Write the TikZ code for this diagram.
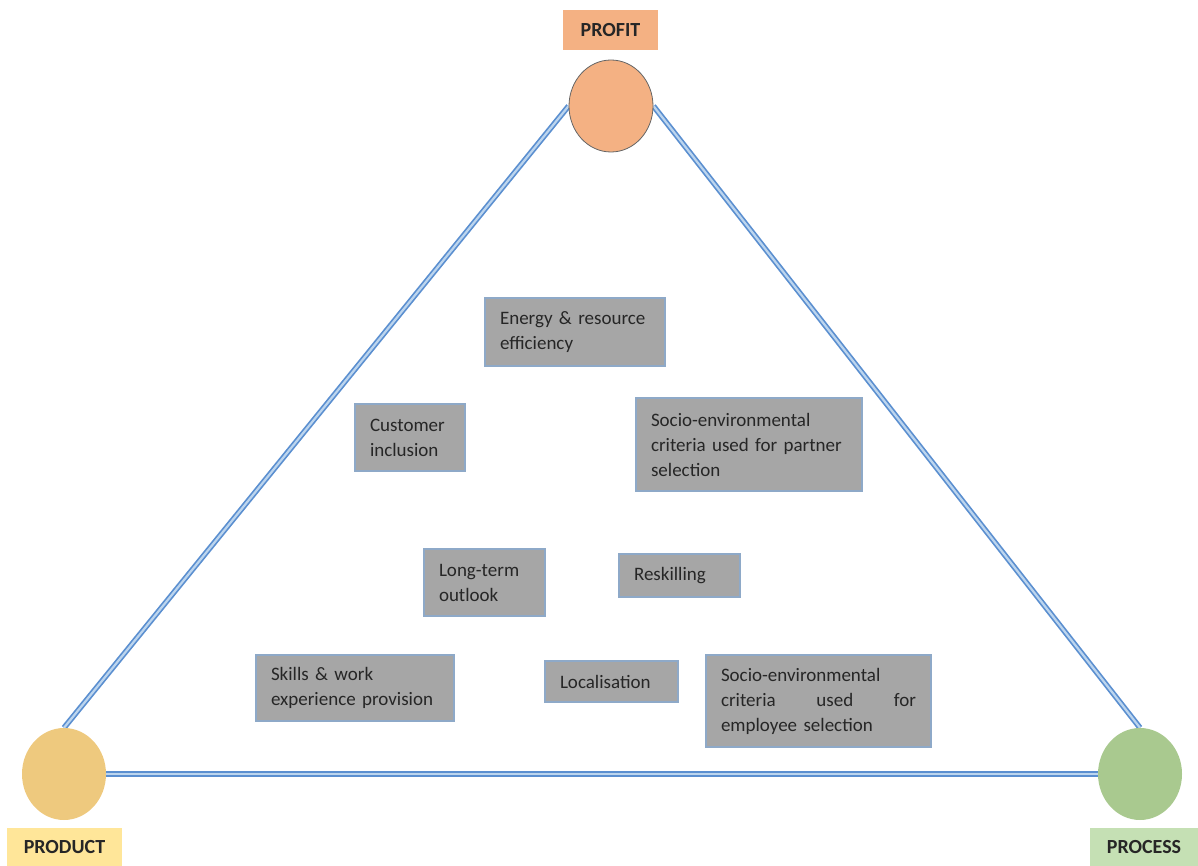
\documentclass[tikz,border=0pt]{standalone}
\usepackage{fontspec}
\setmainfont{Carlito}
\usetikzlibrary{shapes.geometric,backgrounds}
\begin{document}
\begin{tikzpicture}[x=1pt,y=-1pt,
  gbox/.style={draw=boxedge, fill=boxfill, line width=1.5pt, inner xsep=15pt, inner ysep=0pt,
    align=left, text=txt, font=\fontsize{19}{25}\selectfont, anchor=center},
  lbl/.style={inner sep=0pt, text=txt, font=\fontsize{20}{22}\selectfont\bfseries},
  hub/.style={ellipse, minimum width=84pt, minimum height=92pt, inner sep=0pt},
  side/.style={draw=lineedge, double=linefill, line width=1.7pt, double distance=2.2pt}]
\definecolor{boxedge}{HTML}{8EA9C8}
\definecolor{boxfill}{HTML}{A6A6A6}
\definecolor{txt}{HTML}{262626}
\definecolor{lineedge}{HTML}{5B8FD0}
\definecolor{linefill}{HTML}{BCD5EE}
\definecolor{profitc}{HTML}{F4B183}
\definecolor{productc}{HTML}{EEC97E}
\definecolor{processc}{HTML}{A9C98F}
\definecolor{profitl}{HTML}{F4B183}
\definecolor{productl}{HTML}{FFE699}
\definecolor{processl}{HTML}{C5E0B4}
\useasboundingbox (0,0) rectangle (1198,866);

% hubs
\node[hub, fill=profitc, draw=gray!80!black, line width=0.8pt] (profit) at (611,106) {};
\node[hub, fill=productc] (product) at (64,774) {};
\node[hub, fill=processc] (process) at (1140,774) {};

% sides
\begin{scope}[on background layer]
\draw[side] (product.north) -- (profit.west);
\draw[side] (profit.east) -- (process.north);
\draw[side] (product.east) -- (process.west);
\end{scope}

% labels
\node[lbl, fill=profitl, minimum width=95pt, minimum height=40pt] (lprofit) at (610.5,30) {PROFIT};
\node[lbl, fill=productl, minimum width=115pt, minimum height=38pt] (lproduct) at (64.5,847) {PRODUCT};
\node[lbl, fill=processl, minimum width=108pt, minimum height=38pt] (lprocess) at (1144,847) {PROCESS};

% boxes
\node[gbox, text width=150pt, minimum height=68pt] (energy) at (575,332) {Energy \& resource\\efficiency};
\node[gbox, text width=80pt, minimum height=67pt] (customer) at (410,437.5) {Customer\\inclusion};
\node[gbox, text width=196pt, minimum height=93pt] (partner) at (749,444.5) {Socio-environmental\\criteria used for partner\\selection};
\node[gbox, text width=91pt, minimum height=67pt] (longterm) at (484.5,582.5) {Long-term\\outlook};
\node[gbox, text width=91pt, minimum height=43pt] (reskill) at (679.5,575.5) {Reskilling};
\node[gbox, text width=168pt, minimum height=66pt] (skills) at (355,688) {Skills \& work\\experience provision};
\node[gbox, text width=103pt, minimum height=41pt] (local) at (611.5,681.5) {Localisation};
\node[gbox, text width=195pt, minimum height=92pt] (employee) at (818.5,701) {Socio-environmental\\criteria\hfill used\hfill for\\employee selection};
\end{tikzpicture}
\end{document}
